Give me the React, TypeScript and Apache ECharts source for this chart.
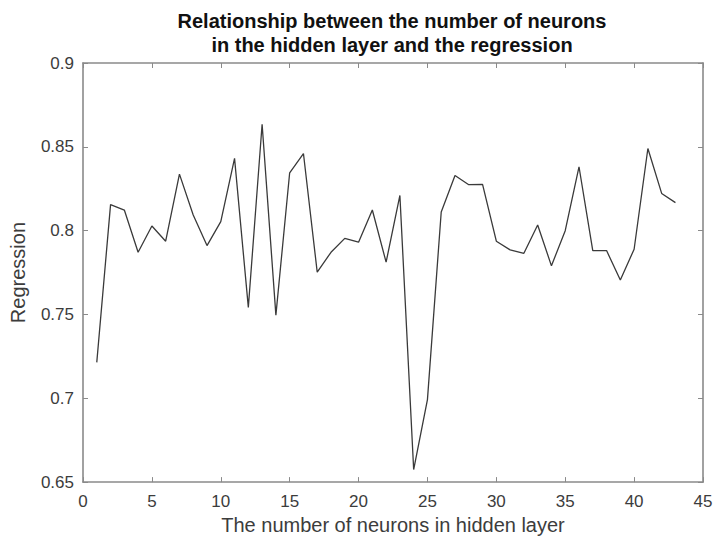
import React, { useEffect, useRef } from "react";
import * as echarts from "echarts";

const neurons = [1,2,3,4,5,6,7,8,9,10,11,12,13,14,15,16,17,18,19,20,21,22,23,24,25,26,27,28,29,30,31,32,33,34,35,36,37,38,39,40,41,42,43];
const regression = [
  0.7214, 0.8155, 0.8123, 0.7871, 0.8028, 0.7937, 0.8337, 0.8093, 0.7911, 0.8054,
  0.8431, 0.7542, 0.8635, 0.7496, 0.8345, 0.846, 0.7752, 0.7871, 0.7954, 0.7931,
  0.8123, 0.7812, 0.821, 0.6575, 0.6992, 0.8111, 0.8329, 0.8274, 0.8276, 0.7937,
  0.7885, 0.7865, 0.8034, 0.779, 0.8, 0.8381, 0.7881, 0.7881, 0.7706, 0.7889,
  0.849, 0.8222, 0.8167
];
const titleText = "Relationship between the number of neurons\nin the hidden layer and the regression";
const xName = "The number of neurons in hidden layer";
const yName = "Regression";

const FONT = "Liberation Sans, Arial, sans-serif";
const AXIS_COLOR = "#8a8a8a";
const TEXT_COLOR = "#3c3c3c";

export default function App() {
  const ref = useRef<HTMLDivElement>(null);
  useEffect(() => {
    if (!ref.current) return;
    const chart = echarts.init(ref.current, undefined, { renderer: "svg" });
    const tickStyle = { show: true, inside: true, length: 5, lineStyle: { color: AXIS_COLOR, width: 1 } };
    const lineStyle = { lineStyle: { color: AXIS_COLOR, width: 1.6 } };
    chart.setOption({
      animation: false,
      backgroundColor: "#ffffff",
      title: {
        text: titleText,
        left: 392,
        textAlign: "center",
        top: 9,
        padding: 0,
        textStyle: { fontFamily: FONT, fontWeight: "bold", fontSize: 20, lineHeight: 24, color: "#111111" },
      },
      grid: { left: 83, right: 13, top: 63, bottom: 57, containLabel: false },
      xAxis: [
        {
          type: "value",
          min: 0,
          max: 45,
          interval: 5,
          position: "bottom",
          name: xName,
          nameLocation: "middle",
          nameGap: 27,
          nameTextStyle: { fontFamily: FONT, fontSize: 20, color: TEXT_COLOR },
          axisLine: { show: true, ...lineStyle },
          axisTick: tickStyle,
          axisLabel: { fontFamily: FONT, fontSize: 17, color: TEXT_COLOR, margin: 11 },
          splitLine: { show: false },
        },
        {
          type: "value",
          min: 0,
          max: 45,
          interval: 5,
          position: "top",
          axisLine: { show: true, onZero: false, ...lineStyle },
          axisTick: tickStyle,
          axisLabel: { show: false },
          splitLine: { show: false },
        },
      ],
      yAxis: [
        {
          type: "value",
          min: 0.65,
          max: 0.9,
          interval: 0.05,
          position: "left",
          name: yName,
          nameLocation: "middle",
          nameGap: 55,
          nameRotate: 90,
          nameTextStyle: { fontFamily: FONT, fontSize: 20, color: TEXT_COLOR },
          axisLine: { show: true, onZero: false, ...lineStyle },
          axisTick: tickStyle,
          axisLabel: { fontFamily: FONT, fontSize: 17, color: TEXT_COLOR, margin: 9 },
          splitLine: { show: false },
        },
        {
          type: "value",
          min: 0.65,
          max: 0.9,
          interval: 0.05,
          position: "right",
          axisLine: { show: true, onZero: false, ...lineStyle },
          axisTick: tickStyle,
          axisLabel: { show: false },
          splitLine: { show: false },
        },
      ],
      series: [
        {
          type: "line",
          xAxisIndex: 0,
          yAxisIndex: 0,
          data: neurons.map((n, i) => [n, regression[i]]),
          showSymbol: false,
          symbol: "none",
          lineStyle: { color: "#3a3a3a", width: 1.3 },
        },
      ],
    });
    return () => chart.dispose();
  }, []);
  return <div ref={ref} style={{ width: 716, height: 540, position: "absolute", left: 0, top: 0 }} />;
}
